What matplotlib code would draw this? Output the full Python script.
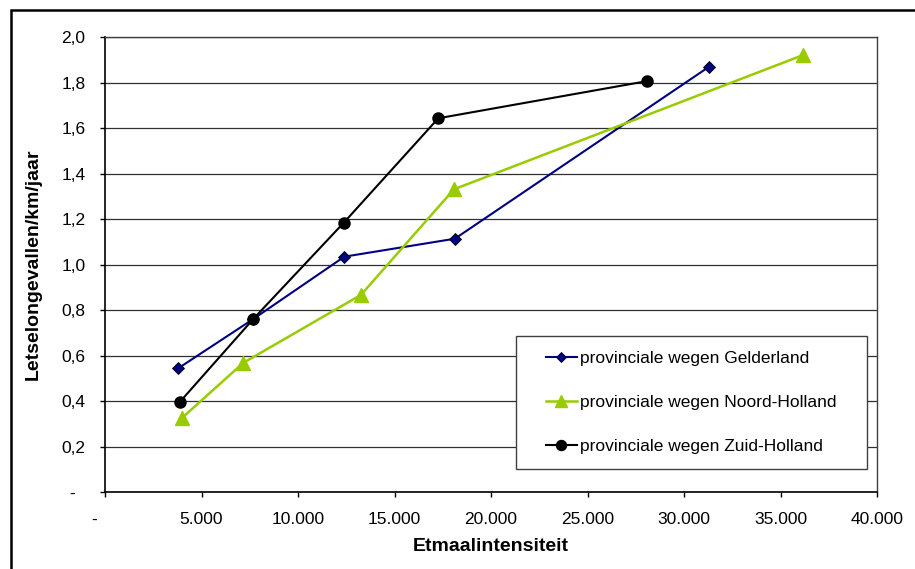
import numpy as np
import matplotlib.pyplot as plt
from matplotlib.patches import Rectangle
from matplotlib.ticker import FuncFormatter

plt.rcParams['font.family'] = ['Liberation Sans', 'DejaVu Sans']

# etmaalintensiteit (x) en letselongevallen per km per jaar (y)
gelderland_x = [3800, 7680, 12400, 18130, 31310]
gelderland_y = [0.545, 0.761, 1.035, 1.114, 1.870]

noord_holland_x = [3970, 7170, 13260, 18080, 36180]
noord_holland_y = [0.325, 0.569, 0.867, 1.331, 1.921]

zuid_holland_x = [3890, 7680, 12380, 17270, 28070]
zuid_holland_y = [0.398, 0.761, 1.185, 1.643, 1.806]

labels = ['provinciale wegen Gelderland',
          'provinciale wegen Noord-Holland',
          'provinciale wegen Zuid-Holland']


def fmt_x(v, pos):
    if v == 0:
        return '-    '
    return f'{int(v):,}'.replace(',', '.')


def fmt_y(v, pos):
    if abs(v) < 1e-9:
        return '-  '
    return f'{v:.1f}'.replace('.', ',')


fig = plt.figure(figsize=(9.15, 5.69), dpi=100)
ax = fig.add_axes([105 / 915, 1 - 492.3 / 569, 772 / 915, 455.3 / 569])

# outer frame around the chart
fig.patches.append(Rectangle((11 / 915, -0.1), 1.2, (569 - 10) / 569 + 0.1,
                             transform=fig.transFigure, fill=False,
                             edgecolor='black', linewidth=1.8))

ax.plot(gelderland_x, gelderland_y, color='#000080', lw=1.5,
        marker='D', ms=6, mec='black', mew=0.6, label=labels[0])
ax.plot(noord_holland_x, noord_holland_y, color='#99CC00', lw=1.8,
        marker='^', ms=9.5, mec='#99CC00', label=labels[1])
ax.plot(zuid_holland_x, zuid_holland_y, color='black', lw=1.5,
        marker='o', ms=8, label=labels[2])

ax.set_xlim(0, 40000)
ax.set_ylim(0, 2.0)
ax.set_xticks(np.arange(0, 40001, 5000))
ax.set_yticks(np.arange(0, 2.01, 0.2))
ax.xaxis.set_major_formatter(FuncFormatter(fmt_x))
ax.yaxis.set_major_formatter(FuncFormatter(fmt_y))
ax.tick_params(direction='out', length=3.6, width=1, labelsize=12.5,
               pad=10.5, colors='black')

ax.grid(axis='y', color='#303030', linewidth=0.9)
ax.set_axisbelow(True)
for side in ['left', 'bottom']:
    ax.spines[side].set_color('black')
    ax.spines[side].set_linewidth(1.2)
for side in ['top', 'right']:
    ax.spines[side].set_color('#404040')
    ax.spines[side].set_linewidth(1)

ax.set_xlabel('Etmaalintensiteit', fontsize=14, fontweight='bold', labelpad=8)
ax.set_ylabel('Letselongevallen/km/jaar', fontsize=14, fontweight='bold',
              labelpad=14)

# legend box: white rectangle with the entries centred inside it
box = Rectangle((0.532, 0.051), 0.455, 0.292, transform=ax.transAxes,
                facecolor='white', edgecolor='#404040', linewidth=1, zorder=4)
ax.add_patch(box)
leg = ax.legend(loc='center', bbox_to_anchor=(0.532 + 0.455 / 2, 0.051 + 0.292 / 2),
                fontsize=12.5, frameon=False, handlelength=1.8,
                handletextpad=0.2, labelspacing=1.65, borderpad=0)
leg.set_zorder(5)
for h in leg.legend_handles:
    h.set_markersize(h.get_markersize() * 0.9)

fig.savefig('out.png', dpi=100)
